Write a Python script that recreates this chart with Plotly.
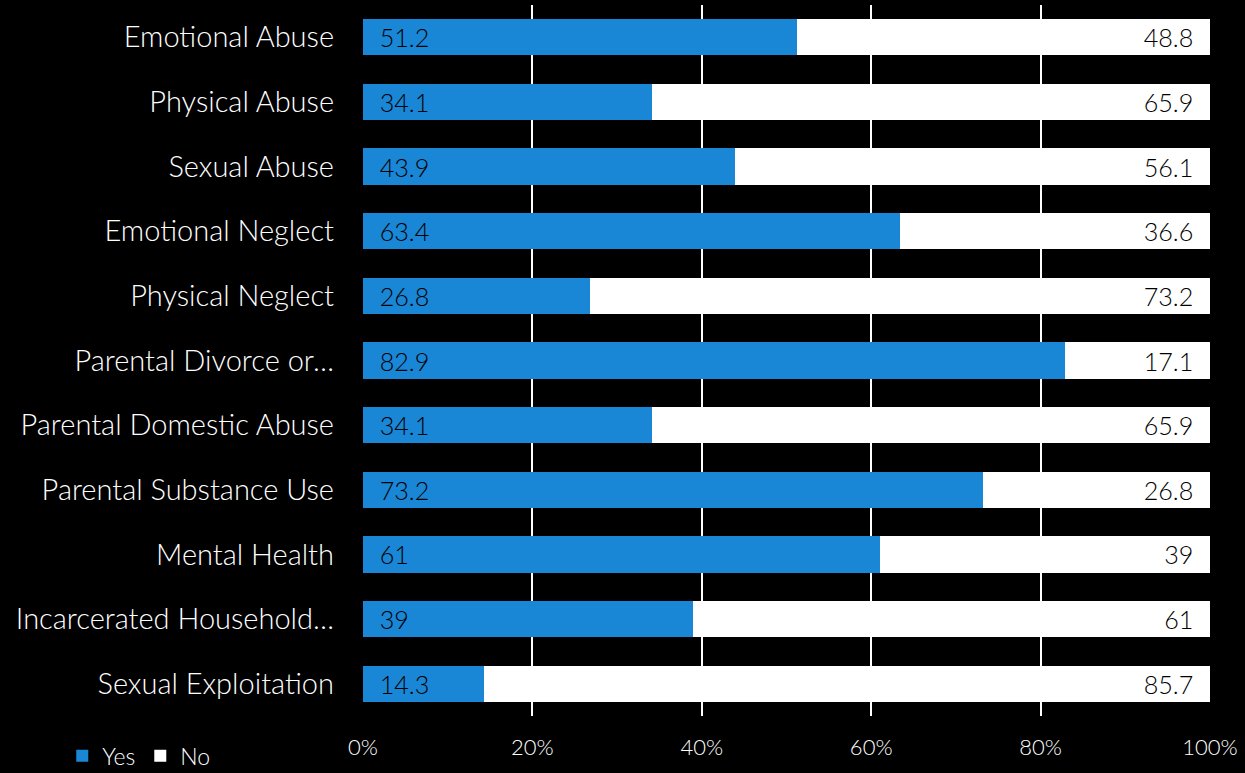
import plotly.graph_objects as go

categories = [
    "Emotional Abuse", "Physical Abuse", "Sexual Abuse", "Emotional Neglect",
    "Physical Neglect", "Parental Divorce or…", "Parental Domestic Abuse",
    "Parental Substance Use", "Mental Health", "Incarcerated Household…",
    "Sexual Exploitation",
]
yes_vals = [51.2, 34.1, 43.9, 63.4, 26.8, 82.9, 34.1, 73.2, 61, 39, 14.3]
no_vals = [48.8, 65.9, 56.1, 36.6, 73.2, 17.1, 65.9, 26.8, 39, 61, 85.7]
tick_vals = [0, 20, 40, 60, 80, 100]
tick_text = ["0%", "20%", "40%", "60%", "80%", "100%"]

FONT = "Lato"
PAD = "\u00a0\u00a0"
VAL_FONT = dict(color="#000000", size=30, family=FONT, weight=300)

fig = go.Figure()
fig.add_trace(go.Bar(
    y=categories, x=yes_vals, name="Yes", orientation="h",
    marker=dict(color="#1a86d6", line=dict(width=0)),
    text=[f"{PAD}{v:g}" for v in yes_vals], textposition="inside",
    insidetextanchor="start", textangle=0, textfont=VAL_FONT,
))
fig.add_trace(go.Bar(
    y=categories, x=no_vals, name="No", orientation="h",
    marker=dict(color="#ffffff", line=dict(width=0)),
    text=[f"{v:g}{PAD}" for v in no_vals], textposition="inside",
    insidetextanchor="end", textangle=0, textfont=VAL_FONT,
))

fig.update_layout(
    barmode="stack",
    bargap=0.44,
    width=1245, height=773,
    paper_bgcolor="#000000", plot_bgcolor="#000000",
    margin=dict(l=363, r=35, t=5, b=57, autoexpand=False),
    font=dict(family=FONT, color="#ffffff", size=29, weight=300),
    uniformtext=dict(mode=False),
    legend=dict(
        orientation="h", xref="container", yref="container",
        x=0.05, y=0.05, xanchor="left", yanchor="top",
        font=dict(size=23, color="#ffffff", weight=300),
        itemwidth=30, traceorder="normal",
    ),
    xaxis=dict(
        range=[0, 100], tickvals=tick_vals, ticktext=tick_text,
        showgrid=True, gridcolor="#ffffff", gridwidth=2,
        zeroline=False, tickfont=dict(size=22, color="#ffffff", weight=300),
        ticks="", ticklabelstandoff=16, automargin=False,
    ),
    yaxis=dict(
        categoryorder="array", categoryarray=categories[::-1],
        tickfont=dict(size=29, color="#ffffff", weight=300), ticks="",
        ticklabelstandoff=28, showgrid=False, automargin=False,
    ),
)

fig.write_html("out.html")
